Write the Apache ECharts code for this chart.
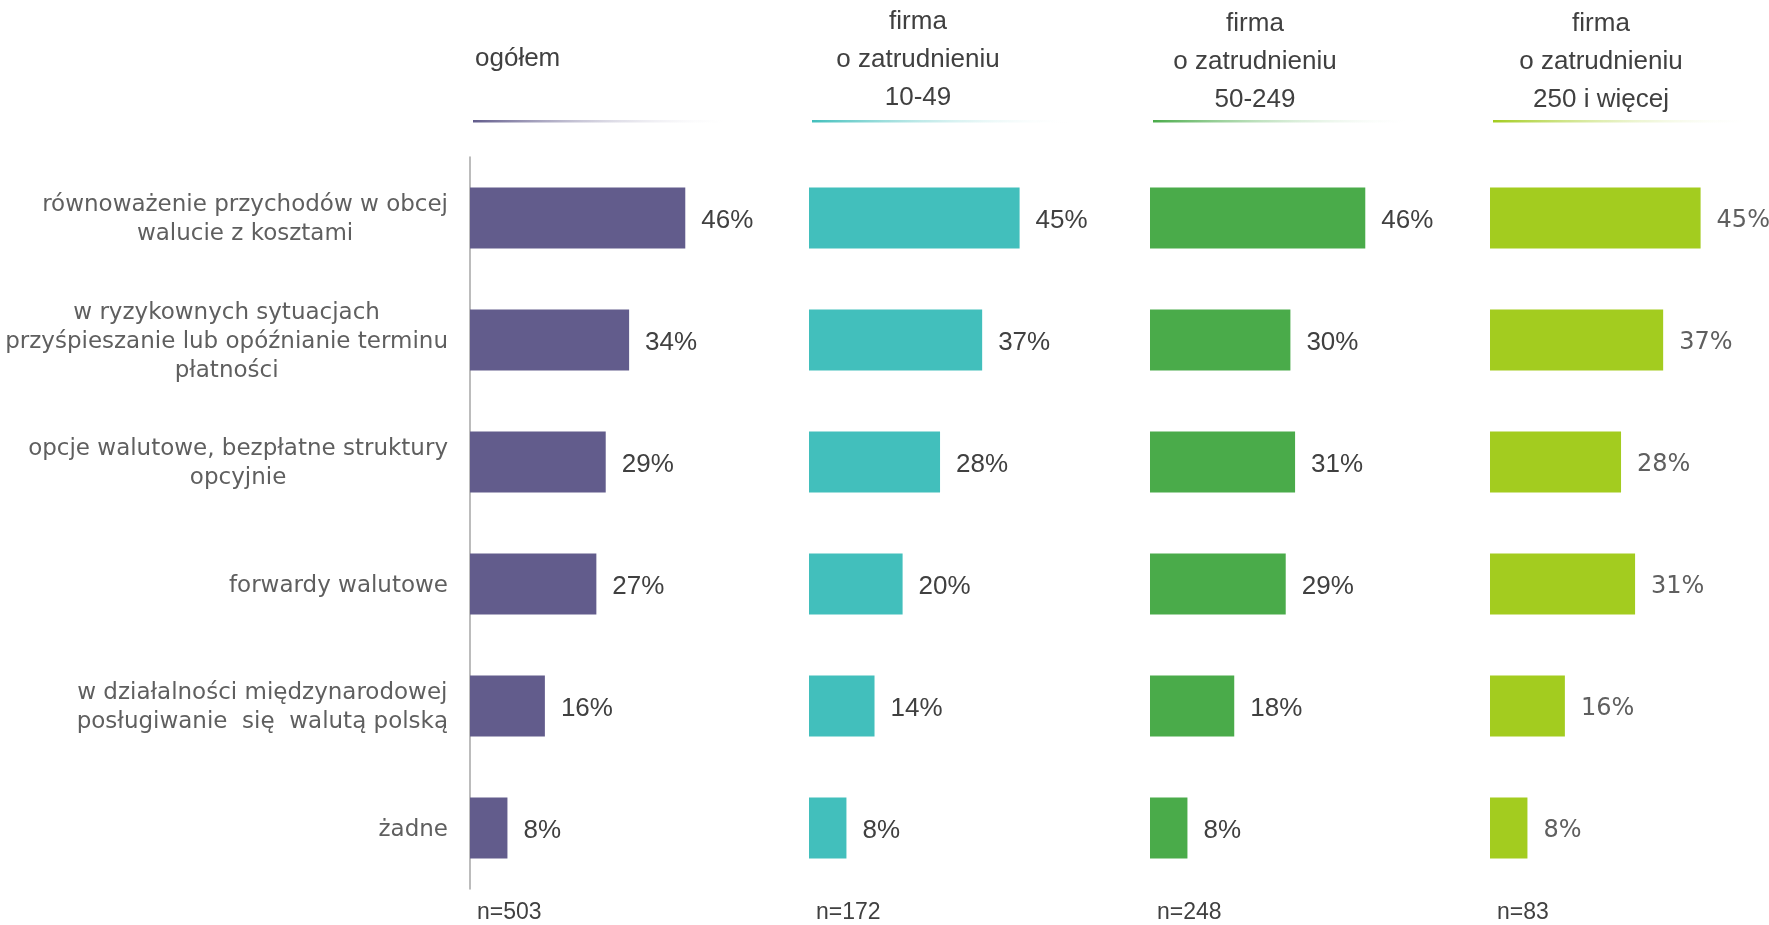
<!DOCTYPE html>
<html>
<head>
<meta charset="utf-8">
<script src="https://cdn.jsdelivr.net/npm/echarts@6/dist/echarts.min.js"></script>
<style>
  html, body { margin: 0; padding: 0; background: #fff; }
  #chart { width: 1769px; height: 925px; }
</style>
</head>
<body>
<div id="chart"></div>
<script>
// kategorie (od góry)
var categories = [
  "równoważenie przychodów w obcej\nwalucie z kosztami",
  "w ryzykownych sytuacjach\nprzyśpieszanie lub opóźnianie terminu\npłatności",
  "opcje walutowe, bezpłatne struktury\nopcyjnie",
  "forwardy walutowe",
  "w działalności międzynarodowej\nposługiwanie  się  walutą polską",
  "żadne"
];
var panelTitles = ["ogółem", "firma\no zatrudnieniu\n10-49", "firma\no zatrudnieniu\n50-249", "firma\no zatrudnieniu\n250 i więcej"];
var sampleSizes = ["n=503", "n=172", "n=248", "n=83"];
var ogolem = [46, 34, 29, 27, 16, 8];
var firma10_49 = [45, 37, 28, 20, 14, 8];
var firma50_249 = [46, 30, 31, 29, 18, 8];
var firma250 = [45, 37, 28, 31, 16, 8];

var seriesValues = [ogolem, firma10_49, firma50_249, firma250];
var colors = ["#625c8c", "#42bfbc", "#4aab4a", "#a3cc1f"];
var gridLefts = [470, 809, 1150, 1490];
var titleCenters = [0, 918, 1255, 1601];
var titleTops = [0, 3, 5, 5];

var myChart = echarts.init(document.getElementById("chart"));

var grids = [], xAxes = [], yAxes = [], series = [], graphics = [];
for (var i = 0; i < 4; i++) {
  grids.push({ left: gridLefts[i], top: 157, width: 234, height: 732, containLabel: false, outerBoundsMode: "none" });
  xAxes.push({ gridIndex: i, type: "value", min: 0, max: 50, show: false });
  yAxes.push({
    gridIndex: i,
    type: "category",
    inverse: true,
    data: categories,
    axisLine: { show: i === 0, lineStyle: { color: "#a6a6a6", width: 1.5 } },
    axisTick: { show: false },
    axisLabel: {
      show: i === 0,
      margin: 22,
      align: "right",
      formatter: function (v) {
        return v.split("\n").map(function (l) { return "{c|" + l + "}"; }).join("\n");
      },
      rich: {
        c: {
          align: "center",
          fontFamily: "DejaVu Sans",
          fontSize: 23,
          lineHeight: 29,
          padding: [4, 0, 0, 0],
          color: "#5f5f5f"
        }
      }
    }
  });
  series.push({
    type: "bar",
    xAxisIndex: i,
    yAxisIndex: i,
    data: seriesValues[i],
    barWidth: 61,
    itemStyle: { color: colors[i] },
    label: {
      show: true,
      position: "right",
      distance: 16,
      offset: [0, 3],
      formatter: "{c}%",
      fontFamily: i === 3 ? "DejaVu Sans" : "Liberation Sans",
      fontSize: i === 3 ? 24 : 26,
      color: i === 3 ? "#5f5f5f" : "#404040"
    }
  });

  // nagłówki
  if (i === 0) {
    graphics.push({
      type: "text", x: 475, y: 59,
      style: {
        text: panelTitles[i], font: "26px 'Liberation Sans'", fill: "#404040",
        textVerticalAlign: "middle"
      }
    });
  } else {
    graphics.push({
      type: "text", x: titleCenters[i], y: titleTops[i],
      style: {
        text: panelTitles[i], font: "26px 'Liberation Sans'", fill: "#404040",
        textAlign: "center", textVerticalAlign: "top", lineHeight: 38
      }
    });
  }
  // linia pod nagłówkiem
  graphics.push({
    type: "rect",
    shape: { x: gridLefts[i] + 3, y: 120, width: 262, height: 2.5 },
    style: {
      fill: new echarts.graphic.LinearGradient(0, 0, 1, 0, [
        { offset: 0, color: colors[i] },
        { offset: 1, color: "rgba(255,255,255,0)" }
      ])
    }
  });
  // liczebność próby
  graphics.push({
    type: "text", x: gridLefts[i] + 7, y: 913,
    style: {
      text: sampleSizes[i], font: "23px 'Liberation Sans'", fill: "#404040",
      textVerticalAlign: "middle"
    }
  });
}

myChart.setOption({
  animation: false,
  grid: grids,
  xAxis: xAxes,
  yAxis: yAxes,
  series: series,
  graphic: graphics
});
</script>
</body>
</html>
